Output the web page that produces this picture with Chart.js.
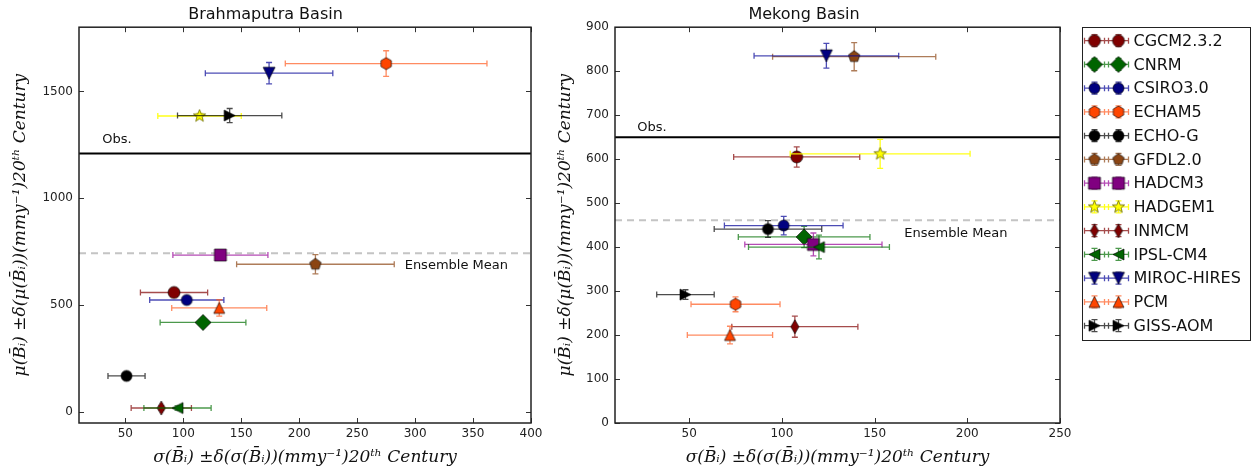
<!DOCTYPE html>
<html>
<head>
<meta charset="utf-8">
<script src="https://cdn.jsdelivr.net/npm/chart.js@4.4.1/dist/chart.umd.min.js"></script>
<style>
  html, body { margin: 0; padding: 0; background: #fff; }
  #wrap { position: relative; width: 1251px; height: 471px; }
  #left { position: absolute; left: 0; top: 0; width: 548px; height: 471px; }
  #right { position: absolute; left: 548px; top: 0; width: 703px; height: 471px; }
</style>
</head>
<body>
<div id="wrap">
  <div id="left"><canvas id="brahma"></canvas></div>
  <div id="right"><canvas id="mekong"></canvas></div>
</div>
<script>
// models, in legend order
const models = ['CGCM2.3.2', 'CNRM', 'CSIRO3.0', 'ECHAM5', 'ECHO-G', 'GFDL2.0', 'HADCM3',
                'HADGEM1', 'INMCM', 'IPSL-CM4', 'MIROC-HIRES', 'PCM', 'GISS-AOM'];

// Brahmaputra basin: sigma (x) and mu (y) with their errors
const brahmaSigma    = [92, 117, 103, 275, 51, 214, 132, 114, 81, 95, 174, 131, 140];
const brahmaSigmaErr = [29, 37, 32, 87, 16, 68, 41, 36, 26, 29, 55, 41, 45];
const brahmaMu       = [560, 420, 525, 1630, 170, 692, 735, 1385, 20, 20, 1585, 488, 1387];
const brahmaMuErr    = [12, 12, 12, 60, 10, 45, 12, 12, 10, 10, 50, 38, 33];
const brahmaObs = 1210;
const brahmaEnsMean = 743;
const brahmaXRange = [10, 400];
const brahmaYRange = [-50, 1800];
const brahmaXTicks = [50, 100, 150, 200, 250, 300, 350, 400];
const brahmaYTicks = [0, 500, 1000, 1500];

// Mekong basin
const mekongSigma    = [108, 112, 101, 75, 92.5, 139, 117, 153, 107, 120, 124, 72, 48];
const mekongSigmaErr = [34, 35.5, 32, 24, 29, 44, 37, 48.5, 34, 38, 39, 23, 15.5];
const mekongMu       = [605, 423, 449, 270, 441, 833, 406, 612, 219, 400, 835, 200, 292];
const mekongMuErr    = [23, 24, 21, 17, 19, 32, 26, 33, 24, 27, 28, 20, 11];
const mekongObs = 650;
const mekongEnsMean = 461;
const mekongXRange = [10, 250];
const mekongYRange = [0, 900];
const mekongXTicks = [50, 100, 150, 200, 250];
const mekongYTicks = [0, 100, 200, 300, 400, 500, 600, 700, 800, 900];

const xTitle = 'σ(B\u0304ᵢ) ±δ(σ(B\u0304ᵢ))(mmy⁻¹)20ᵗʰ Century';
const yTitle = 'μ(B\u0304ᵢ) ±δ(μ(B\u0304ᵢ))(mmy⁻¹)20ᵗʰ Century';

// marker look per model
const looks = [
  {shape: 'circle',   r: 6,   fill: '#800000', err: 'rgba(128,0,0,0.7)'},
  {shape: 'diamond',  r: 8,   fill: '#006400', err: 'rgba(0,110,0,0.7)'},
  {shape: 'circle',   r: 5.5, fill: '#000080', err: 'rgba(0,0,150,0.7)'},
  {shape: 'hexagon',  r: 6,   fill: '#ff4500', err: 'rgba(255,90,30,0.7)'},
  {shape: 'circle',   r: 5.5, fill: '#000000', err: 'rgba(0,0,0,0.7)'},
  {shape: 'pentagon', r: 6,   fill: '#8b4513', err: 'rgba(139,69,19,0.7)'},
  {shape: 'square',   r: 6,   fill: '#800080', err: 'rgba(150,0,150,0.7)'},
  {shape: 'star',     r: 6.5, fill: '#ffff00', err: 'rgba(255,255,0,0.9)'},
  {shape: 'thin',     r: 7,   fill: '#800000', err: 'rgba(128,0,0,0.7)'},
  {shape: 'left',     r: 5.5, fill: '#006400', err: 'rgba(0,110,0,0.7)'},
  {shape: 'down',     r: 6,   fill: '#000080', err: 'rgba(0,0,150,0.7)'},
  {shape: 'up',       r: 5.5, fill: '#ff4500', err: 'rgba(255,90,30,0.7)'},
  {shape: 'right',    r: 5.5, fill: '#000000', err: 'rgba(0,0,0,0.7)'}
];

function polygon(g, n, r, inner) {
  const pts = inner ? n * 2 : n;
  for (let k = 0; k < pts; k++) {
    const a = k * Math.PI * 2 / pts;
    const rr = inner && k % 2 ? inner : r;
    const px = rr * Math.sin(a), py = -rr * Math.cos(a);
    if (k) g.lineTo(px, py); else g.moveTo(px, py);
  }
  g.closePath();
}

function makeMarker(look) {
  const r = look.r;
  const s = Math.ceil(2 * r + 4);
  const c = document.createElement('canvas');
  c.width = s; c.height = s;
  const g = c.getContext('2d');
  g.translate(s / 2, s / 2);
  g.beginPath();
  switch (look.shape) {
    case 'circle': g.arc(0, 0, r, 0, Math.PI * 2); break;
    case 'square': g.rect(-r, -r, 2 * r, 2 * r); break;
    case 'diamond': g.moveTo(0, -r); g.lineTo(r, 0); g.lineTo(0, r); g.lineTo(-r, 0); g.closePath(); break;
    case 'thin': g.moveTo(0, -r); g.lineTo(r * 0.58, 0); g.lineTo(0, r); g.lineTo(-r * 0.58, 0); g.closePath(); break;
    case 'pentagon': polygon(g, 5, r); break;
    case 'hexagon': polygon(g, 6, r); break;
    case 'star': polygon(g, 5, r, r * 0.42); break;
    case 'up': g.moveTo(0, -r); g.lineTo(r, r); g.lineTo(-r, r); g.closePath(); break;
    case 'down': g.moveTo(0, r); g.lineTo(r, -r); g.lineTo(-r, -r); g.closePath(); break;
    case 'left': g.moveTo(-r, 0); g.lineTo(r, -r); g.lineTo(r, r); g.closePath(); break;
    case 'right': g.moveTo(r, 0); g.lineTo(-r, -r); g.lineTo(-r, r); g.closePath(); break;
  }
  g.fillStyle = look.fill;
  g.fill();
  g.lineWidth = 0.8;
  g.strokeStyle = look.shape === 'star' ? '#666600' : 'rgba(0,0,0,0.8)';
  g.stroke();
  return c;
}

const markerImgs = looks.map(makeMarker);

// error bars, drawn just before each model's marker
const errorBars = {
  id: 'errorBars',
  beforeDatasetDraw(chart, args) {
    const ds = chart.data.datasets[args.index];
    if (!ds.xErr) return;
    const {ctx, scales: {x, y}} = chart;
    const cap = 3;
    ctx.save();
    ctx.strokeStyle = ds.errColor;
    ctx.lineWidth = 1.3;
    ds.data.forEach((p, k) => {
      const px = x.getPixelForValue(p.x), py = y.getPixelForValue(p.y);
      const x1 = x.getPixelForValue(p.x - ds.xErr[k]), x2 = x.getPixelForValue(p.x + ds.xErr[k]);
      const y1 = y.getPixelForValue(p.y - ds.yErr[k]), y2 = y.getPixelForValue(p.y + ds.yErr[k]);
      ctx.beginPath();
      ctx.moveTo(x1, py); ctx.lineTo(x2, py);
      ctx.moveTo(x1, py - cap); ctx.lineTo(x1, py + cap);
      ctx.moveTo(x2, py - cap); ctx.lineTo(x2, py + cap);
      ctx.moveTo(px, y1); ctx.lineTo(px, y2);
      ctx.moveTo(px - cap, y1); ctx.lineTo(px + cap, y1);
      ctx.moveTo(px - cap, y2); ctx.lineTo(px + cap, y2);
      ctx.stroke();
    });
    ctx.restore();
  }
};

// box with inward ticks on all four sides
const frame = {
  id: 'frame',
  afterDatasetsDraw(chart) {
    const {ctx, chartArea: a, scales: {x, y}} = chart;
    const len = 5;
    ctx.save();
    ctx.strokeStyle = '#333';
    ctx.lineWidth = 1;
    ctx.beginPath();
    x.ticks.forEach(t => {
      const px = Math.round(x.getPixelForValue(t.value)) + 0.5;
      ctx.moveTo(px, a.bottom); ctx.lineTo(px, a.bottom - len);
      ctx.moveTo(px, a.top); ctx.lineTo(px, a.top + len);
    });
    y.ticks.forEach(t => {
      const py = Math.round(y.getPixelForValue(t.value)) + 0.5;
      ctx.moveTo(a.left, py); ctx.lineTo(a.left + len, py);
      ctx.moveTo(a.right, py); ctx.lineTo(a.right - len, py);
    });
    ctx.stroke();
    ctx.lineWidth = 1.5;
    ctx.strokeStyle = '#222';
    ctx.strokeRect(a.left, a.top, a.right - a.left, a.bottom - a.top);
    ctx.restore();
  }
};

function notesPlugin(items) {
  return {
    id: 'notes',
    afterDatasetsDraw(chart) {
      const {ctx, scales: {x, y}} = chart;
      ctx.save();
      ctx.font = '13px "DejaVu Sans"';
      ctx.fillStyle = '#111';
      ctx.textBaseline = 'middle';
      ctx.textAlign = 'left';
      items.forEach(n => ctx.fillText(n.text, x.getPixelForValue(n.x), y.getPixelForValue(n.y)));
      ctx.restore();
    }
  };
}

const legendBox = {
  id: 'legendBox',
  afterDraw(chart) {
    const ctx = chart.ctx;
    const bx = 534, by = 27, bw = 168, bh = 313;
    const step = 23.75, first = 13.7;
    const m1 = 12.5, m2 = 36.5, d = 10, cap = 3, vh = 6;
    ctx.save();
    ctx.fillStyle = '#fff';
    ctx.fillRect(bx, by, bw, bh);
    ctx.strokeStyle = '#222';
    ctx.lineWidth = 1;
    ctx.strokeRect(bx + 0.5, by + 0.5, bw, bh);
    ctx.font = '16px "DejaVu Sans"';
    ctx.textBaseline = 'middle';
    ctx.fillStyle = '#111';
    models.forEach((name, i) => {
      const cy = by + first + i * step;
      ctx.strokeStyle = looks[i].err;
      ctx.lineWidth = 1.3;
      ctx.beginPath();
      ctx.moveTo(bx + m1 - d, cy); ctx.lineTo(bx + m2 + d, cy);
      [m1 - d, m1 + d, m2 - d, m2 + d].forEach(cx => {
        ctx.moveTo(bx + cx, cy - cap); ctx.lineTo(bx + cx, cy + cap);
      });
      [m1, m2].forEach(cx => {
        ctx.moveTo(bx + cx, cy - vh); ctx.lineTo(bx + cx, cy + vh);
        ctx.moveTo(bx + cx - cap, cy - vh); ctx.lineTo(bx + cx + cap, cy - vh);
        ctx.moveTo(bx + cx - cap, cy + vh); ctx.lineTo(bx + cx + cap, cy + vh);
      });
      ctx.stroke();
      const img = markerImgs[i];
      [m1, m2].forEach(cx => ctx.drawImage(img, bx + cx - img.width / 2, cy - img.height / 2));
      ctx.fillText(name, bx + 51.5, cy + 1);
    });
    ctx.restore();
  }
};

function buildChart(id, cfg) {
  const datasets = models.map((name, i) => ({
    label: name,
    data: [{x: cfg.sigma[i], y: cfg.mu[i]}],
    xErr: [cfg.sigmaErr[i]],
    yErr: [cfg.muErr[i]],
    errColor: looks[i].err,
    pointStyle: markerImgs[i],
    pointRadius: 7,
    order: models.length - i
  }));
  datasets.push({
    type: 'line', label: 'Obs.',
    data: [{x: cfg.xRange[0], y: cfg.obs}, {x: cfg.xRange[1], y: cfg.obs}],
    borderColor: '#000', borderWidth: 2, pointRadius: 0, order: 100
  });
  datasets.push({
    type: 'line', label: 'Ensemble Mean',
    data: [{x: cfg.xRange[0], y: cfg.ens}, {x: cfg.xRange[1], y: cfg.ens}],
    borderColor: '#c4c4c4', borderWidth: 2, borderDash: [7, 5], pointRadius: 0, order: 100
  });

  const tickFont = {family: '"DejaVu Sans"', size: 12};
  const titleFont = {family: '"DejaVu Serif"', size: 17, style: 'italic'};
  const plugins = [errorBars, frame, notesPlugin(cfg.notes)];
  if (cfg.legend) plugins.push(legendBox);

  return new Chart(document.getElementById(id), {
    type: 'scatter',
    data: {datasets},
    plugins,
    options: {
      responsive: true,
      maintainAspectRatio: false,
      animation: false,
      devicePixelRatio: 1,
      layout: {padding: {left: 0, right: cfg.padRight, top: 0, bottom: 0}},
      plugins: {
        legend: {display: false},
        tooltip: {enabled: false},
        title: {
          display: true, text: cfg.title, color: '#111',
          font: {family: '"DejaVu Sans"', size: 16, weight: 'normal'},
          padding: {top: 5, bottom: 3}
        }
      },
      scales: {
        x: {
          type: 'linear', bounds: 'data',
          min: cfg.xRange[0], max: cfg.xRange[1],
          grid: {display: false, drawTicks: false},
          border: {display: false},
          ticks: {font: tickFont, color: '#222', padding: 4, maxRotation: 0, callback: v => String(v)},
          afterBuildTicks(s) { s.ticks = cfg.xTicks.map(v => ({value: v})); },
          title: {display: true, text: xTitle, color: '#111', font: titleFont,
                  padding: {top: 0, bottom: 3}},
          afterFit(s) { s.height = 48; }
        },
        y: {
          type: 'linear', bounds: 'data',
          min: cfg.yRange[0], max: cfg.yRange[1],
          grid: {display: false, drawTicks: false},
          border: {display: false},
          ticks: {font: tickFont, color: '#222', padding: 6, callback: v => String(v)},
          afterBuildTicks(s) { s.ticks = cfg.yTicks.map(v => ({value: v})); },
          title: {display: true, text: yTitle, color: '#111', font: titleFont,
                  padding: {top: cfg.yTitlePad, bottom: 0}},
          afterFit(s) { s.width = cfg.yWidth; }
        }
      }
    }
  });
}

buildChart('brahma', {
  title: 'Brahmaputra Basin',
  sigma: brahmaSigma, sigmaErr: brahmaSigmaErr, mu: brahmaMu, muErr: brahmaMuErr,
  obs: brahmaObs, ens: brahmaEnsMean,
  xRange: brahmaXRange, yRange: brahmaYRange, xTicks: brahmaXTicks, yTicks: brahmaYTicks,
  notes: [{text: 'Obs.', x: 30, y: 1275}, {text: 'Ensemble Mean', x: 291, y: 686}],
  padRight: 17, yWidth: 79, yTitlePad: 10, legend: false
});

buildChart('mekong', {
  title: 'Mekong Basin',
  sigma: mekongSigma, sigmaErr: mekongSigmaErr, mu: mekongMu, muErr: mekongMuErr,
  obs: mekongObs, ens: mekongEnsMean,
  xRange: mekongXRange, yRange: mekongYRange, xTicks: mekongXTicks, yTicks: mekongYTicks,
  notes: [{text: 'Obs.', x: 22, y: 672}, {text: 'Ensemble Mean', x: 166, y: 431}],
  padRight: 191, yWidth: 67, yTitlePad: 7, legend: true
});
</script>
</body>
</html>
